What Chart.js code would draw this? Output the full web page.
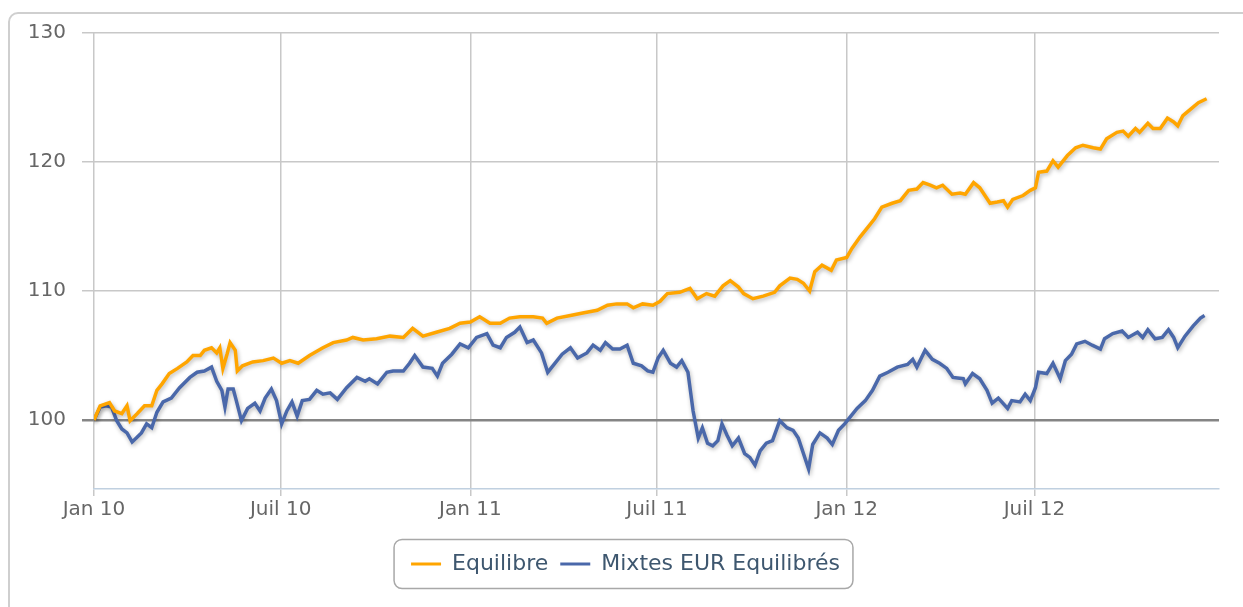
<!DOCTYPE html>
<html>
<head>
<meta charset="utf-8">
<script src="https://cdn.jsdelivr.net/npm/chart.js@4"></script>
<style>
  html, body { margin: 0; padding: 0; background: #fff; overflow: hidden; }
  #frame {
    position: absolute; left: 8px; top: 12px; width: 1400px; height: 800px;
    border: 2px solid #cfcfcf; border-radius: 10px; box-sizing: border-box;
  }
  #wrap { position: absolute; left: 0; top: 0; width: 1243px; height: 607px; }
</style>
</head>
<body>
<div id="frame"></div>
<div id="wrap"><canvas id="chart"></canvas></div>
<script>
// x values are days since 1 Jan 2010
const tickDays = [0, 181, 365, 546, 730, 912];
const tickLabels = ["Jan 10", "Juil 10", "Jan 11", "Juil 11", "Jan 12", "Juil 12"];
const yTicks = [100, 110, 120, 130];

const eqDays = [0, 6, 15, 20, 27, 32, 35, 42, 49, 56, 61, 66, 73, 81, 90, 96, 103, 107, 114, 119,
  122, 125, 129, 132, 137, 139, 144, 154, 164, 174, 182, 190, 198, 209, 222, 232, 245, 251, 261, 274,
  287, 300, 309, 319, 332, 345, 355, 365, 374, 384, 394, 403, 413, 426, 435, 439, 449, 462, 474, 488,
  498, 507, 517, 523, 532, 542, 549, 556, 568, 578, 585, 594, 602, 610, 617, 625, 630, 639, 649, 660,
  665, 675, 682, 688, 694, 699, 706, 715, 720, 730, 735, 743, 750, 757, 764, 774, 782, 790, 798, 804,
  811, 817, 823, 832, 840, 845, 853, 859, 869, 876, 882, 886, 891, 901, 908, 913, 916, 924, 930, 935,
  944, 952, 959, 969, 976, 982, 992, 998, 1003, 1010, 1014, 1022, 1027, 1034, 1041, 1047, 1051, 1056,
  1065, 1071, 1079];
const eqValues = [100.0, 101.1, 101.35, 100.7, 100.5, 101.1, 99.95, 100.5, 101.1, 101.1, 102.3, 102.8, 103.6, 104.0, 104.5, 105.0, 105.0, 105.4, 105.6, 105.2,
  105.6, 104.0, 105.1, 106.0, 105.4, 103.8, 104.2, 104.5, 104.6, 104.8, 104.4, 104.6, 104.4, 105.0, 105.6, 106.0, 106.2, 106.4, 106.2, 106.3,
  106.5, 106.4, 107.1, 106.5, 106.8, 107.1, 107.5, 107.6, 108.0, 107.5, 107.5, 107.9, 108.0, 108.0, 107.9, 107.5, 107.9, 108.1, 108.3, 108.5,
  108.9, 109.0, 109.0, 108.7, 109.0, 108.9, 109.2, 109.8, 109.9, 110.2, 109.4, 109.8, 109.6, 110.4, 110.8, 110.3, 109.8, 109.4, 109.6, 109.9,
  110.4, 111.0, 110.9, 110.6, 110.0, 111.5, 112.0, 111.6, 112.4, 112.6, 113.3, 114.2, 114.9, 115.6, 116.5, 116.8, 117.0, 117.8, 117.9, 118.4,
  118.2, 118.0, 118.2, 117.5, 117.6, 117.5, 118.4, 118.0, 116.8, 116.9, 117.0, 116.5, 117.1, 117.4, 117.8, 118.0, 119.2, 119.3, 120.1, 119.6,
  120.5, 121.1, 121.3, 121.1, 121.0, 121.8, 122.3, 122.4, 122.0, 122.6, 122.3, 123.0, 122.6, 122.6, 123.4, 123.1, 122.8, 123.6,
  124.2, 124.6, 124.9];

const mxDays = [0, 6, 12, 17, 22, 27, 32, 37, 41, 46, 51, 56, 61, 67, 75, 83, 93, 100, 107, 114,
  119, 124, 127, 130, 135, 138, 143, 149, 156, 161, 166, 172, 177, 182, 187, 192, 197, 202, 209, 216,
  222, 229, 236, 245, 255, 263, 267, 275, 284, 290, 300, 306, 311, 319, 328, 333, 338, 347, 355, 363,
  371, 381, 387, 394, 400, 408, 413, 420, 426, 434, 440, 445, 454, 462, 469, 478, 484, 491, 496, 503,
  510, 517, 523, 531, 537, 542, 547, 552, 559, 565, 570, 576, 581, 586, 590, 595, 600, 605, 609, 614,
  619, 625, 631, 636, 641, 646, 652, 658, 665, 672, 678, 683, 688, 693, 697, 704, 711, 716, 722, 728,
  733, 740, 748, 755, 762, 770, 779, 789, 794, 798, 806, 813, 820, 827, 833, 843, 845, 852, 859, 866,
  871, 877, 886, 890, 898, 903, 908, 913, 916, 924, 930, 937, 942, 948, 953, 961, 968, 976, 980, 988,
  997, 1003, 1012, 1017, 1022, 1029, 1036, 1042, 1047, 1051, 1058, 1066, 1073, 1077];
const mxValues = [100.0, 101.0, 101.1, 101.0, 99.95, 99.3, 99.0, 98.3, 98.6, 99.0, 99.7, 99.4, 100.6, 101.4, 101.7, 102.5, 103.3, 103.7, 103.8, 104.1,
  103.0, 102.3, 101.0, 102.4, 102.4, 101.5, 99.95, 100.9, 101.3, 100.7, 101.7, 102.4, 101.5, 99.7, 100.7, 101.4, 100.3, 101.5, 101.6, 102.3,
  102.0, 102.1, 101.6, 102.5, 103.3, 103.0, 103.2, 102.8, 103.7, 103.8, 103.8, 104.4, 105.0, 104.1, 104.0, 103.4, 104.4, 105.1, 105.9, 105.6,
  106.4, 106.7, 105.8, 105.6, 106.4, 106.8, 107.2, 106.0, 106.2, 105.2, 103.7, 104.2, 105.1, 105.6, 104.8, 105.2, 105.8, 105.4, 106.0, 105.5,
  105.5, 105.8, 104.4, 104.2, 103.8, 103.7, 104.8, 105.4, 104.4, 104.1, 104.6, 103.7, 100.7, 98.6, 99.4, 98.2, 98.0, 98.4, 99.7, 98.8,
  98.0, 98.6, 97.4, 97.1, 96.5, 97.6, 98.2, 98.4, 99.95, 99.4, 99.2, 98.6, 97.4, 96.2, 98.1, 99.0, 98.6, 98.1, 99.2, 99.7,
  100.2, 100.9, 101.5, 102.3, 103.4, 103.7, 104.1, 104.3, 104.7, 104.1, 105.4, 104.7, 104.4, 104.0, 103.3, 103.2, 102.8, 103.6, 103.2, 102.3,
  101.3, 101.7, 100.9, 101.5, 101.4, 102.0, 101.5, 102.5, 103.7, 103.6, 104.4, 103.2, 104.6, 105.1, 105.9, 106.1, 105.8, 105.5, 106.3, 106.7,
  106.9, 106.4, 106.8, 106.4, 107.0, 106.3, 106.4, 107.0, 106.4, 105.6, 106.5, 107.3, 107.9, 108.1];

const toPoints = (days, values) => days.map((d, i) => ({ x: d, y: values[i] }));

const legendOffset = 4;

// soft shadow under the lines
const lineShadow = {
  id: "lineShadow",
  beforeDatasetDraw(chart) {
    const c = chart.ctx;
    c.save();
    c.shadowColor = "rgba(0,0,0,0.28)";
    c.shadowBlur = 4;
    c.shadowOffsetX = 1;
    c.shadowOffsetY = 2;
  },
  afterDatasetDraw(chart) {
    chart.ctx.restore();
  }
};

// nudge the legend a little to the right, like the original
const legendShift = {
  id: "legendShift",
  afterLayout(chart) {
    const lg = chart.legend;
    if (!lg) return;
    lg.left += legendOffset;
    lg.right += legendOffset;
  }
};

// rounded frame around the legend items
const legendFrame = {
  id: "legendFrame",
  afterDraw(chart) {
    const boxes = chart.legend && chart.legend.legendHitBoxes;
    if (!boxes || !boxes.length) return;
    const first = boxes[0], last = boxes[boxes.length - 1];
    const cy = first.top + first.height / 2;
    const x0 = first.left - 17;
    const x1 = last.left + last.width + 13;
    const y0 = cy - 24.5, y1 = cy + 24.5;
    const c = chart.ctx;
    c.save();
    c.beginPath();
    c.roundRect(x0, y0, x1 - x0, y1 - y0, 8);
    c.lineWidth = 1.5;
    c.strokeStyle = "#a8a8a8";
    c.stroke();
    c.restore();
  }
};

const ctx = document.getElementById("chart").getContext("2d");
new Chart(ctx, {
  type: "line",
  data: {
    datasets: [{
      label: "Equilibre",
      data: toPoints(eqDays, eqValues),
      borderColor: "#FFA500",
      backgroundColor: "#FFA500",
      borderWidth: 3.5,
      pointRadius: 0,
      tension: 0
    }, {
      label: "Mixtes EUR Equilibrés",
      data: toPoints(mxDays, mxValues),
      borderColor: "#4A68AA",
      backgroundColor: "#4A68AA",
      borderWidth: 3.5,
      pointRadius: 0,
      tension: 0
    }]
  },
  options: {
    responsive: true,
    maintainAspectRatio: false,
    animation: false,
    layout: { padding: { left: 24, right: 24, top: 33, bottom: 22 } },
    plugins: {
      tooltip: { enabled: false },
      legend: {
        position: "bottom",
        labels: {
          boxWidth: 30,
          boxHeight: 3,
          padding: 12,
          color: "#3E576F",
          font: { family: "DejaVu Sans", size: 22 },
          generateLabels(chart) {
            return Chart.defaults.plugins.legend.labels.generateLabels(chart)
              .map((l) => ({ ...l, lineWidth: 0 }));
          }
        }
      }
    },
    scales: {
      x: {
        type: "linear",
        min: 0,
        max: 1091,
        afterFit(scale) { scale.height = 52; },
        afterBuildTicks(scale) { scale.ticks = tickDays.map((v) => ({ value: v })); },
        ticks: {
          autoSkip: false,
          maxRotation: 0,
          padding: 2,
          color: "#666",
          font: { family: "DejaVu Sans", size: 20 },
          callback: (v) => tickLabels[tickDays.indexOf(v)]
        },
        grid: { color: "#C8C8C8", lineWidth: 1.5, tickLength: 7 },
        border: { color: "#C0D0E0", width: 1.5 }
      },
      y: {
        min: 94.65,
        max: 130,
        afterFit(scale) { scale.width = 70; },
        afterBuildTicks(scale) { scale.ticks = yTicks.map((v) => ({ value: v })); },
        ticks: {
          padding: 16,
          color: "#666",
          font: { family: "DejaVu Sans", size: 20 }
        },
        grid: {
          tickLength: 12,
          color: (c) => (c.tick && c.tick.value === 100 ? "#858585" : "#C8C8C8"),
          lineWidth: (c) => (c.tick && c.tick.value === 100 ? 2.5 : 1.5)
        },
        border: { display: false }
      }
    }
  },
  plugins: [lineShadow, legendShift, legendFrame]
});
</script>
</body>
</html>
